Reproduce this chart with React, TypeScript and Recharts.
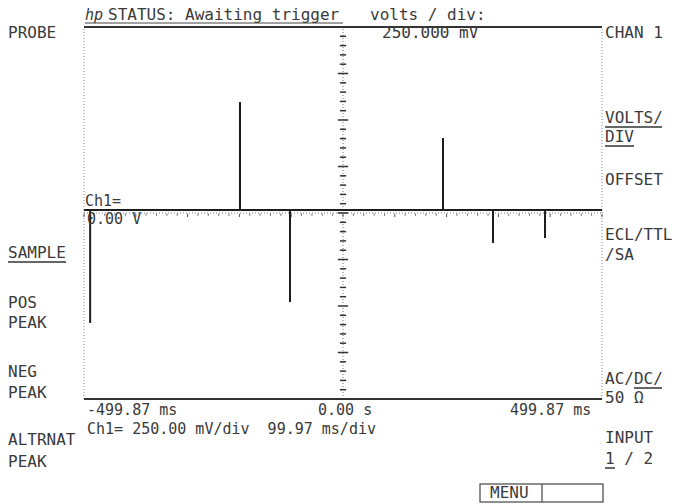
import React from "react";
import { LineChart, Line, XAxis, YAxis, ReferenceLine } from "recharts";

const TIME_MIN = -499.87;
const TIME_MAX = 499.87;
const TIME_PER_DIV = 99.97;
const VOLT_PER_DIV = 0.25;
const baselineVolts = 0.016;
const spikeTimes = [-488, -198.8, -102.3, 193, 289.5, 389.9];
const spikeVolts = [-0.591, 0.597, -0.478, 0.403, -0.161, -0.134];

const leftLabels = ["PROBE", "SAMPLE", "POS", "PEAK", "NEG", "PEAK", "ALTRNAT", "PEAK"];
const rightLabels = ["CHAN 1", "VOLTS/", "DIV", "OFFSET", "ECL/TTL", "/SA", "AC/DC/", "50 Ω", "INPUT", "1 / 2"];
const bottomTimeLabels = ["-499.87 ms", "0.00 s", "499.87 ms"];
const statusText = "STATUS: Awaiting trigger";
const voltsTitle = "volts / div:";
const voltsValue = "250.000 mV";
const scaleLine = "Ch1= 250.00 mV/div  99.97 ms/div";

// trace built from spikes
const trace: { t: number; v: number }[] = [{ t: TIME_MIN, v: baselineVolts }];
spikeTimes.forEach((t, i) => {
  trace.push({ t, v: baselineVolts });
  trace.push({ t, v: spikeVolts[i] });
  trace.push({ t, v: baselineVolts });
});
trace.push({ t: TIME_MAX, v: baselineVolts });

// graticule minor ticks (1/5 division)
const vTicks: number[] = [];
for (let k = -40; k <= 40; k++) vTicks.push((k * VOLT_PER_DIV) / 5);
const hTicks: number[] = [];
for (let k = -25; k <= 25; k++) hTicks.push((k * TIME_PER_DIV) / 5);

const FONT = "'DejaVu Sans Mono', 'Liberation Mono', monospace";
const TXT = "#3a3a3a";

const T = ({ x, y, children, size = 16 }: any) => (
  <text x={x} y={y} fontFamily={FONT} fontSize={size} fill={TXT} style={{ whiteSpace: "pre" }}>
    {children}
  </text>
);

export default function App() {
  return (
    <div style={{ position: "absolute", left: 0, top: 0, width: 673, height: 504, background: "#fff" }}>
      <LineChart
        width={673}
        height={504}
        data={trace}
        margin={{ top: 27, right: 71, bottom: 105, left: 84 }}
      >
        <XAxis dataKey="t" type="number" domain={[TIME_MIN, TIME_MAX]} allowDataOverflow hide />
        <YAxis type="number" domain={[-1, 1]} allowDataOverflow hide />
        {/* borders */}
        <ReferenceLine x={TIME_MIN} stroke="#888" strokeDasharray="1 2" />
        <ReferenceLine x={TIME_MAX} stroke="#888" strokeDasharray="1 2" />
        <ReferenceLine x={0} stroke="#777" strokeDasharray="1 2" />
        <ReferenceLine y={0} stroke="#777" strokeDasharray="1 2" />
        <ReferenceLine y={1} stroke="#333" strokeWidth={2} />
        <ReferenceLine y={-1} stroke="#333" strokeWidth={2} />
        {vTicks.map((v, i) => {
          const major = i % 5 === 0;
          const w = major ? 10 : 6;
          return (
            <ReferenceLine
              key={"vt" + i}
              segment={[{ x: -w, y: v }, { x: w, y: v }]}
              stroke="#333"
              strokeWidth={1.5}
            />
          );
        })}
        {hTicks.map((t, i) => {
          const major = i % 5 === 0;
          return (
            <ReferenceLine
              key={"ht" + i}
              segment={[{ x: t, y: -0.004 }, { x: t, y: major ? -0.022 : -0.014 }]}
              stroke="#555"
              strokeWidth={1}
            />
          );
        })}
        <Line
          dataKey="v"
          type="linear"
          stroke="#1e1e1e"
          strokeWidth={2}
          dot={false}
          isAnimationActive={false}
        />
      </LineChart>
      <svg
        width={673}
        height={504}
        style={{ position: "absolute", left: 0, top: 0, pointerEvents: "none" }}
      >
        {/* header */}
        <text x={85} y={20} fontFamily={FONT} fontSize={15} fontStyle="italic" fill={TXT}>hp</text>
        <T x={108} y={20}>{statusText}</T>
        <line x1={85} y1={23} x2={343} y2={23} stroke="#444" strokeWidth={1} />
        <T x={370} y={20}>{voltsTitle}</T>
        <T x={382} y={38}>{voltsValue}</T>
        {/* left softkeys */}
        <T x={8} y={38}>{leftLabels[0]}</T>
        <T x={8} y={258}>{leftLabels[1]}</T>
        <line x1={8} y1={262} x2={66} y2={262} stroke="#333" strokeWidth={1.5} />
        <T x={8} y={308}>{leftLabels[2]}</T>
        <T x={8} y={328}>{leftLabels[3]}</T>
        <T x={8} y={377}>{leftLabels[4]}</T>
        <T x={8} y={398}>{leftLabels[5]}</T>
        <T x={8} y={445}>{leftLabels[6]}</T>
        <T x={8} y={467}>{leftLabels[7]}</T>
        {/* right softkeys */}
        <T x={605} y={38}>{rightLabels[0]}</T>
        <T x={605} y={123}>{rightLabels[1]}</T>
        <line x1={605} y1={127} x2={662} y2={127} stroke="#333" strokeWidth={1.5} />
        <T x={605} y={142}>{rightLabels[2]}</T>
        <line x1={605} y1={146} x2={634} y2={146} stroke="#333" strokeWidth={1.5} />
        <T x={605} y={185}>{rightLabels[3]}</T>
        <T x={605} y={240}>{rightLabels[4]}</T>
        <T x={605} y={260}>{rightLabels[5]}</T>
        <T x={605} y={384}>{rightLabels[6]}</T>
        <line x1={634} y1={388} x2={662} y2={388} stroke="#333" strokeWidth={1.5} />
        <T x={605} y={403}>{rightLabels[7]}</T>
        <T x={605} y={443}>{rightLabels[8]}</T>
        <T x={605} y={464}>{rightLabels[9]}</T>
        <line x1={605} y1={468} x2={615} y2={468} stroke="#333" strokeWidth={1.5} />
        {/* in-plot labels */}
        <T x={85} y={206} size={15}>Ch1=</T>
        <T x={87} y={224} size={15}>0.00 V</T>
        {/* bottom */}
        <T x={87} y={415} size={15}>{bottomTimeLabels[0]}</T>
        <T x={318} y={415} size={15}>{bottomTimeLabels[1]}</T>
        <T x={510} y={415} size={15}>{bottomTimeLabels[2]}</T>
        <T x={87} y={434} size={15}>{scaleLine}</T>
        {/* menu box */}
        <rect x={480} y={484} width={123} height={18} fill="none" stroke="#444" strokeWidth={1.2} />
        <line x1={542} y1={484} x2={542} y2={502} stroke="#444" strokeWidth={1.2} />
        <T x={490} y={498}>MENU</T>
      </svg>
    </div>
  );
}
